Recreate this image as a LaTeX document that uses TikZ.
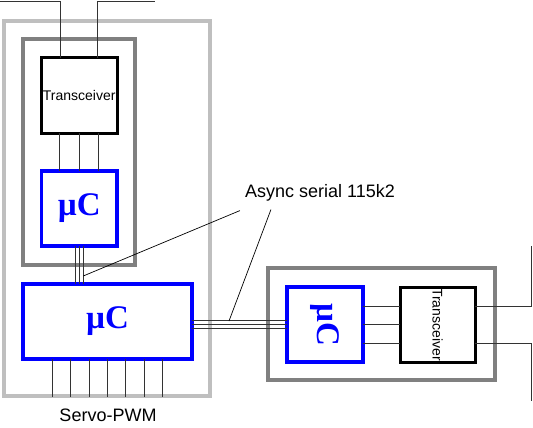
\documentclass[tikz,border=0pt]{standalone}
\usepackage{fontspec}
\setmainfont{Liberation Sans}
\newfontfamily\serifbold{Liberation Serif}
\usetikzlibrary{calc}

\tikzset{
  trxbox/.style={draw=black,line width=3pt,fill=white,minimum width=75.5pt,minimum height=75pt,inner sep=0pt,outer sep=0pt,font=\fontsize{14}{14}\selectfont},
  mcubox/.style={draw=blue,line width=3.5pt,fill=white,minimum height=75pt,inner sep=0pt,outer sep=0pt,text=blue,font=\serifbold\bfseries\fontsize{33}{33}\selectfont},
  wire/.style={draw=black!80,line width=0.9pt},
  lbl/.style={font=\fontsize{18}{18}\selectfont,inner sep=0pt}
}

\begin{document}
\begin{tikzpicture}[x=1pt,y=-1pt]
\useasboundingbox (0,0) rectangle (533,428);
% housings
\draw[black!25,line width=4pt] (4,21) rectangle (210,396);
\draw[black!50,line width=4.5pt] (23,39) rectangle (135,265);
\draw[black!50,line width=4.5pt] (268,268) rectangle (495,380);

% left side
\node[trxbox] (trxA) at (79.25,95.5) {Transceiver};
\node[mcubox,minimum width=75.5pt] (mcuA) at (79.25,208.5) {\textmu C};
\node[mcubox,minimum width=169pt] (mcuB) at (107.5,321.5) {\textmu C};
% right side
\node[mcubox,minimum width=76pt] (mcuC) at (325,324.5) {\rotatebox{-90}{\textmu C}};
\node[trxbox,minimum width=75pt] (trxC) at (437.5,324.5) {\rotatebox{-90}{Transceiver}};

% antenna wires
\draw[wire] ($(trxA.north)+(-18.5,0)$) |- (0,1.5);
\draw[wire] ($(trxA.north)+(18.5,0)$) |- (155,1.5);
\draw[wire] ($(trxC.east)+(0,-18.5)$) -| (531.5,246);
\draw[wire] ($(trxC.east)+(0,18.5)$) -| (531.5,401);

% transceiver to uC
\foreach \d in {-19.5,0,19.5}
  \draw[wire] ($(trxA.south)+(\d,0)$) -- ($(mcuA.north)+(\d,0)$);
\foreach \d in {-18.5,0,18.5}
  \draw[wire] ($(mcuC.east)+(0,\d)$) -- ($(trxC.west)+(0,\d)$);

% serial links
\foreach \d in {-4,0,4}
  \draw[wire] ($(mcuA.south)+(\d,0)$) coordinate (p) -- (p |- mcuB.north);
\foreach \d in {-4,0,4}
  \draw[wire] ($(mcuC.west)+(0,\d)$) coordinate (p) -- (p -| mcuB.east);

% servo outputs
\foreach \i in {-3,...,3}
  \draw[wire] ($(mcuB.south)+(\i*18.3,0)$) -- ++(0,38);

% labels
\node[lbl] (serial) at (320,193) {Async serial 115k2};
\node[lbl] (servo) at (108,415) {Servo-PWM};
\coordinate (tapA) at ($(mcuA.south)+(4,30)$);
\coordinate (tapB) at (229,321);
\draw[black,line width=0.7pt] (tapA) -- ($(serial.south west)+(-5,9)$);
\draw[black,line width=0.7pt] (tapB) -- ($(serial.south west)+(26,8)$);
\end{tikzpicture}
\end{document}
